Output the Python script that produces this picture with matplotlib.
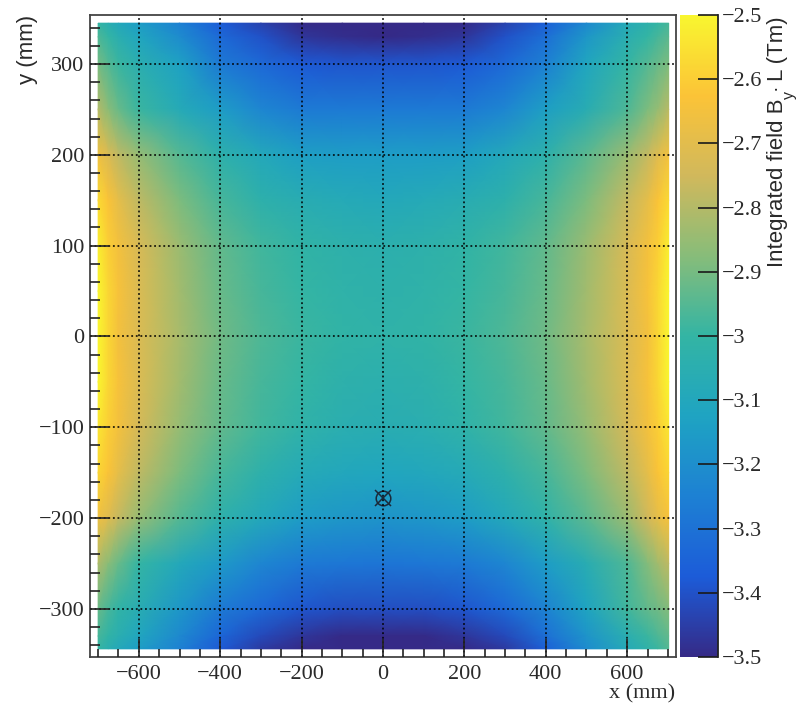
import numpy as np
import matplotlib
matplotlib.use("Agg")
import matplotlib.pyplot as plt
from matplotlib.colors import LinearSegmentedColormap
from matplotlib.ticker import MultipleLocator

x_nodes = [-700, -675, -650, -600, -500, -400, -300, -200, -100, 0, 100, 200, 300, 400, 500, 600, 650, 675, 702]
y_nodes = [345, 330, 300, 250, 200, 150, 100, 50, 0, -50, -100, -150, -200, -250, -300, -330, -344]

row_p345 = [-3.00,-3.05,-3.09,-3.15,-3.25,-3.37,-3.44,-3.51,-3.53,-3.53,-3.53,-3.51,-3.44,-3.36,-3.22,-3.08,-3.03,-3.00,-2.97]
row_p330 = [-2.96,-3.00,-3.05,-3.11,-3.21,-3.33,-3.40,-3.47,-3.49,-3.50,-3.49,-3.47,-3.40,-3.31,-3.17,-3.05,-3.00,-2.97,-2.94]
row_p300 = [-2.90,-2.95,-2.99,-3.05,-3.13,-3.27,-3.33,-3.38,-3.39,-3.39,-3.39,-3.38,-3.33,-3.25,-3.11,-3.00,-2.95,-2.92,-2.89]
row_p250 = [-2.80,-2.87,-2.92,-2.99,-3.08,-3.15,-3.23,-3.27,-3.27,-3.27,-3.27,-3.27,-3.23,-3.14,-3.06,-2.96,-2.89,-2.85,-2.79]
row_p200 = [-2.66,-2.72,-2.78,-2.85,-2.95,-3.03,-3.09,-3.14,-3.15,-3.15,-3.15,-3.14,-3.09,-3.03,-2.94,-2.84,-2.77,-2.71,-2.65]
row_p150 = [-2.57,-2.63,-2.69,-2.78,-2.89,-2.97,-3.03,-3.06,-3.08,-3.09,-3.08,-3.06,-3.03,-2.97,-2.89,-2.77,-2.69,-2.63,-2.57]
row_p100 = [-2.52,-2.60,-2.65,-2.73,-2.84,-2.93,-2.98,-3.01,-3.03,-3.04,-3.03,-3.01,-2.98,-2.93,-2.84,-2.73,-2.65,-2.60,-2.52]
row_p050 = [-2.50,-2.58,-2.64,-2.72,-2.83,-2.92,-2.97,-3.00,-3.02,-3.03,-3.02,-3.00,-2.97,-2.92,-2.83,-2.72,-2.64,-2.58,-2.50]
row_z000 = [-2.49,-2.58,-2.65,-2.72,-2.82,-2.91,-2.96,-2.99,-3.01,-3.02,-3.01,-2.99,-2.96,-2.91,-2.82,-2.72,-2.65,-2.58,-2.49]
row_m050 = [-2.50,-2.58,-2.64,-2.72,-2.83,-2.92,-2.97,-3.00,-3.03,-3.04,-3.03,-3.00,-2.97,-2.92,-2.83,-2.72,-2.64,-2.58,-2.50]
row_m100 = [-2.54,-2.60,-2.65,-2.74,-2.85,-2.93,-2.98,-3.02,-3.05,-3.06,-3.05,-3.02,-2.98,-2.93,-2.85,-2.74,-2.65,-2.60,-2.54]
row_m150 = [-2.58,-2.63,-2.69,-2.78,-2.89,-2.97,-3.03,-3.08,-3.10,-3.11,-3.10,-3.08,-3.03,-2.97,-2.89,-2.78,-2.69,-2.63,-2.58]
row_m200 = [-2.66,-2.71,-2.77,-2.85,-2.95,-3.03,-3.09,-3.15,-3.17,-3.18,-3.17,-3.15,-3.09,-3.02,-2.94,-2.84,-2.75,-2.69,-2.64]
row_m250 = [-2.81,-2.87,-2.92,-3.00,-3.09,-3.16,-3.23,-3.27,-3.28,-3.29,-3.28,-3.27,-3.23,-3.15,-3.06,-2.96,-2.88,-2.83,-2.78]
row_m300 = [-2.92,-2.97,-3.01,-3.06,-3.17,-3.27,-3.33,-3.39,-3.41,-3.41,-3.41,-3.39,-3.33,-3.24,-3.12,-2.98,-2.93,-2.91,-2.88]
row_m330 = [-2.97,-3.01,-3.05,-3.11,-3.22,-3.34,-3.42,-3.47,-3.50,-3.50,-3.50,-3.47,-3.42,-3.31,-3.18,-3.05,-2.99,-2.96,-2.93]
row_m344 = [-3.00,-3.05,-3.09,-3.15,-3.25,-3.38,-3.46,-3.51,-3.53,-3.53,-3.53,-3.51,-3.46,-3.36,-3.21,-3.08,-3.02,-2.99,-2.95]

field_rows = [row_p345, row_p330, row_p300, row_p250, row_p200, row_p150, row_p100, row_p050, row_z000,
              row_m050, row_m100, row_m150, row_m200, row_m250, row_m300, row_m330, row_m344]

marker_x = [0]
marker_y = [-178]
x_ticks = [-600, -400, -200, 0, 200, 400, 600]
y_ticks = [-300, -200, -100, 0, 100, 200, 300]
cbar_ticks = [-3.5, -3.4, -3.3, -3.2, -3.1, -3.0, -2.9, -2.8, -2.7, -2.6, -2.5]
cbar_labels = ['\u22123.5', '\u22123.4', '\u22123.3', '\u22123.2', '\u22123.1', '\u22123',
               '\u22122.9', '\u22122.8', '\u22122.7', '\u22122.6', '\u22122.5']

palette_red = [0.2082, 0.1100, 0.1150, 0.1200, 0.2000, 0.5301, 0.8186, 0.9856, 0.9764]
palette_green = [0.1664, 0.3599, 0.5041, 0.6419, 0.7078, 0.7392, 0.7228, 0.7662, 0.9632]
palette_blue = [0.5293, 0.8484, 0.8285, 0.7614, 0.6425, 0.4762, 0.3599, 0.2168, 0.1839]
cmap = LinearSegmentedColormap.from_list('bird', list(zip(palette_red, palette_green, palette_blue)), N=512)

W, H = 808, 707
fig = plt.figure(figsize=(W / 100, H / 100), dpi=100)
serif = 'Liberation Serif'
sans = 'Liberation Sans'
ink = '#2a2a2a'
frame = '#444444'

ax = fig.add_axes([90 / W, 1 - 657 / H, 586 / W, 642 / H])
mesh = ax.pcolormesh(x_nodes, y_nodes, np.array(field_rows), shading='gouraud', cmap=cmap, vmin=-3.5, vmax=-2.5)
ax.set_xlim(-720, 720)
ax.set_ylim(-353, 354)
ax.set_axisbelow(False)
ax.grid(True, which='major', color='black', linestyle=(0, (1.2, 1.8)), linewidth=1.1)
ax.plot(marker_x, marker_y, 'o', ms=10.5, mfc='none', mec='#1a2a3a', mew=1.1)
ax.plot(marker_x, marker_y, 'x', ms=11, mec='#1a2a3a', mew=1.1)

ax.set_xticks(x_ticks)
ax.set_yticks(y_ticks)
ax.set_xticklabels([str(v).replace('-', '\u2212') for v in x_ticks], family=serif, fontsize=16, color=ink)
ax.set_yticklabels([str(v).replace('-', '\u2212') for v in y_ticks], family=serif, fontsize=16, color=ink)
ax.xaxis.set_minor_locator(MultipleLocator(50))
ax.yaxis.set_minor_locator(MultipleLocator(20))
ax.tick_params(axis='x', which='major', direction='in', length=13, width=1.2, color='#222222', pad=6)
ax.tick_params(axis='x', which='minor', direction='in', length=6, width=1.2, color='#222222')
ax.tick_params(axis='y', which='major', direction='in', length=14, width=1.2, color='#222222', pad=4)
ax.tick_params(axis='y', which='minor', direction='in', length=7.5, width=1.2, color='#222222')
for s in ax.spines.values():
    s.set_color(frame)
    s.set_linewidth(1.3)

cax = fig.add_axes([680 / W, 1 - 657 / H, 37.5 / W, 642 / H])
cb = fig.colorbar(mesh, cax=cax)
cb.set_ticks(cbar_ticks)
cb.set_ticklabels(cbar_labels)
cb.minorticks_off()
cb.outline.set_visible(False)
cax.tick_params(axis='y', which='major', direction='in', length=14.5, width=1.2, color='#1a1a1a', pad=3)
for t in cax.get_yticklabels():
    t.set_family(serif)
    t.set_fontsize(16)
    t.set_color(ink)
cax.plot([1, 1], [0, 1], transform=cax.transAxes, color='#222222', lw=1.3, clip_on=False)


def side_text(px, py, text, size=16):
    fig.text(px / W, 1 - py / H, text, rotation=90, rotation_mode='anchor', ha='left', va='baseline',
             family=sans, fontsize=size, color=ink)


side_text(783, 267, 'Integrated field B')
side_text(794, 99, 'y', 11.5)
side_text(780, 90, '\u00b7', 14)
side_text(783, 81, 'L (Tm)')
fig.text(27 / W, 1 - 15 / H, 'y (mm)', rotation=90, ha='center', va='top', family=sans, fontsize=16, color=ink)
fig.text(675 / W, 1 - 694 / H, 'x (mm)', ha='right', va='center', family=serif, fontsize=16, color=ink)

fig.savefig('out.png', dpi=100)
